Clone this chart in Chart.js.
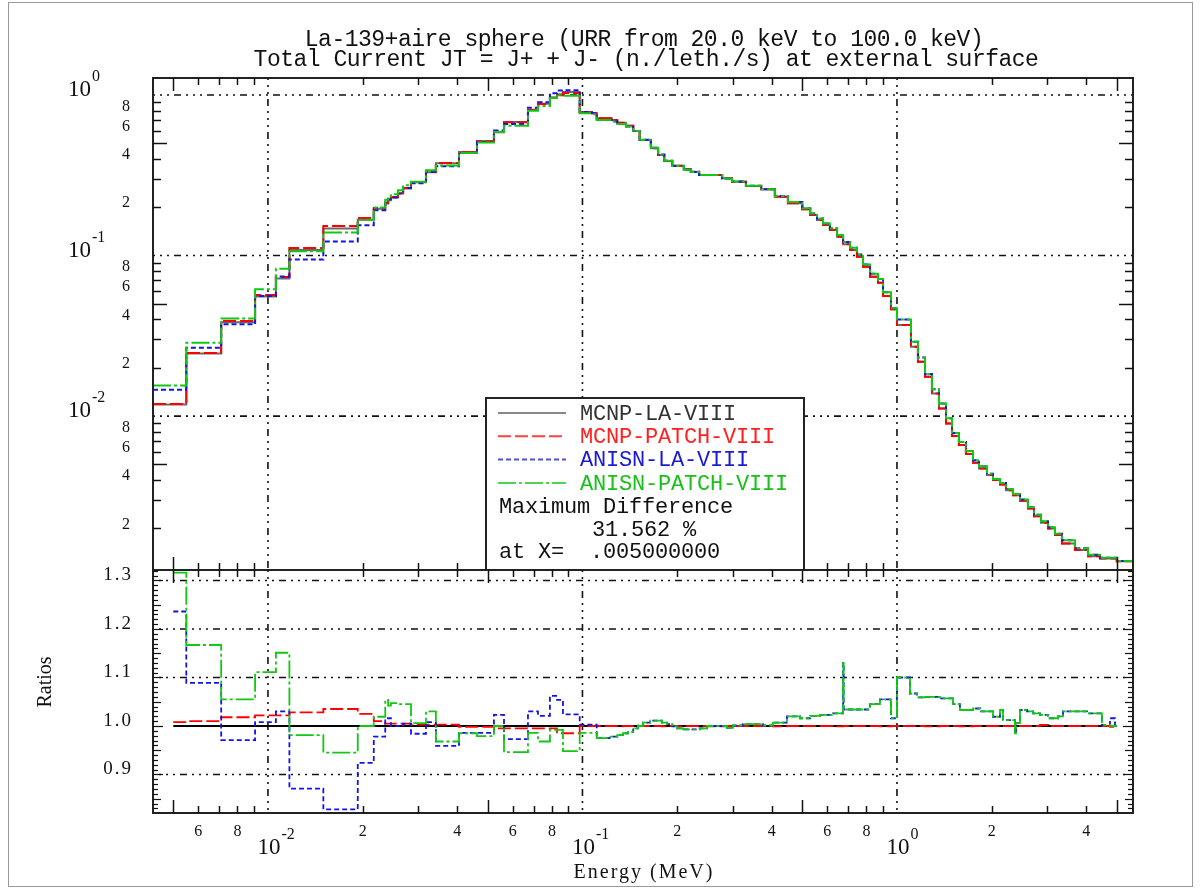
<!DOCTYPE html>
<html>
<head>
<meta charset="utf-8">
<title>La-139+aire sphere - Total Current</title>
<script src="https://cdn.jsdelivr.net/npm/chart.js@4/dist/chart.umd.min.js"></script>
<style>
  html, body { margin: 0; padding: 0; background: #fff; }
  #wrap { position: relative; width: 1200px; height: 888px; }
  #wrap canvas { position: absolute; left: 0; top: 0; }
</style>
</head>
<body>
<div id="wrap">
  <canvas id="fluxChart" width="1200" height="888"></canvas>
  <canvas id="ratioChart" width="1200" height="888"></canvas>
</div>
<script>
// axis ranges
const E_MIN = 0.00431, E_MAX = 5.63;
const FLUX_MIN = 0.0011, FLUX_MAX = 1.276;
const RATIO_MIN = 0.8206, RATIO_MAX = 1.3216;

const titleLines = ['La-139+aire sphere (URR from 20.0 keV to 100.0 keV)',
  'Total Current JT = J+ + J- (n./leth./s) at external surface'];
const seriesNames = ['MCNP-LA-VIII', 'MCNP-PATCH-VIII', 'ANISN-LA-VIII', 'ANISN-PATCH-VIII'];
const maxDiffLines = ['Maximum Difference', '31.562 %', 'at X=  .005000000'];

// top panel: bin edges (MeV) and values per bin
const fluxEdges = [0.00431, 0.0055, 0.0071, 0.0091, 0.0106, 0.0117, 0.015, 0.0193, 0.0217, 0.0236,
  0.0241, 0.0246, 0.0259, 0.0269, 0.0285, 0.0318, 0.0342, 0.0405, 0.0462, 0.0523,
  0.0563, 0.0671, 0.0722, 0.0788, 0.083, 0.0867, 0.098, 0.107, 0.111, 0.124,
  0.129, 0.1375, 0.145, 0.152, 0.165, 0.174, 0.182, 0.193, 0.21, 0.221,
  0.235, 0.278, 0.299, 0.331, 0.37, 0.409, 0.45, 0.5, 0.53, 0.557,
  0.582, 0.612, 0.645, 0.674, 0.709, 0.746, 0.78, 0.821, 0.87, 0.903,
  0.957, 1.0, 1.108, 1.166, 1.228, 1.292, 1.36, 1.432, 1.496, 1.574,
  1.657, 1.745, 1.823, 1.933, 2.02, 2.126, 2.221, 2.338, 2.461, 2.609,
  2.727, 2.87, 3.021, 3.18, 3.347, 3.681, 4.049, 4.42, 5.0, 5.63];

const mcnpLa = [0.0118, 0.0245, 0.0384, 0.0555, 0.0719, 0.1083, 0.1475, 0.1671, 0.1957, 0.2113,
  0.2207, 0.2302, 0.2439, 0.262, 0.2862, 0.3303, 0.3759, 0.4414, 0.517, 0.588,
  0.679, 0.81, 0.882, 0.966, 1.01, 1.045, 0.7804, 0.769, 0.716, 0.6984,
  0.6722, 0.6438, 0.5966, 0.5244, 0.4655, 0.4228, 0.3879, 0.3627, 0.3444, 0.3328,
  0.3174, 0.3027, 0.2884, 0.271, 0.2585, 0.2325, 0.2114, 0.194, 0.1788, 0.1664,
  0.1549, 0.1441, 0.1309, 0.1174, 0.1082, 0.09829, 0.08515, 0.07378, 0.06767, 0.05593,
  0.04622, 0.0369, 0.02702, 0.0218, 0.01757, 0.01385, 0.01117, 0.009006, 0.007505, 0.006597,
  0.005797, 0.005117, 0.004721, 0.004289, 0.003993, 0.003754, 0.003458, 0.003219, 0.002967, 0.00266,
  0.002381, 0.002163, 0.001996, 0.001814, 0.00161, 0.001463, 0.001342, 0.001298, 0.001249];

const mcnpPatch = [0.0119, 0.02475, 0.0391, 0.05672, 0.07348, 0.1113, 0.1527, 0.1713, 0.1977, 0.2124,
  0.2218, 0.2314, 0.2451, 0.2633, 0.2871, 0.3313, 0.377, 0.4405, 0.516, 0.5851,
  0.6756, 0.806, 0.8776, 0.9612, 0.9949, 1.029, 0.7804, 0.769, 0.716, 0.6984,
  0.6722, 0.6438, 0.5966, 0.5244, 0.4655, 0.4228, 0.3879, 0.3627, 0.3444, 0.3328,
  0.3174, 0.3027, 0.2884, 0.271, 0.2585, 0.2325, 0.2114, 0.194, 0.1788, 0.1664,
  0.1549, 0.1441, 0.1309, 0.1174, 0.1082, 0.09829, 0.08515, 0.07378, 0.06767, 0.05593,
  0.04622, 0.0369, 0.02702, 0.0218, 0.01757, 0.01385, 0.01117, 0.009006, 0.007505, 0.006597,
  0.005797, 0.005117, 0.004721, 0.004289, 0.003993, 0.003754, 0.003458, 0.003219, 0.002967, 0.00266,
  0.002381, 0.002163, 0.001996, 0.001814, 0.00161, 0.001463, 0.001342, 0.001298, 0.001249];

const anisnLa = [0.01458, 0.02668, 0.03729, 0.05594, 0.07406, 0.09433, 0.1221, 0.1544, 0.1914, 0.2147,
  0.2242, 0.2302, 0.2439, 0.2633, 0.2816, 0.3329, 0.3605, 0.4352, 0.5098, 0.6015,
  0.6607, 0.8343, 0.9005, 1.026, 1.065, 1.07, 0.7827, 0.7713, 0.698, 0.683,
  0.66, 0.636, 0.596, 0.5265, 0.47, 0.426, 0.3895, 0.361, 0.342, 0.331,
  0.317, 0.302, 0.289, 0.272, 0.259, 0.2345, 0.2155, 0.197, 0.1826, 0.1702,
  0.1585, 0.1478, 0.1343, 0.1214, 0.1119, 0.1016, 0.088, 0.0771, 0.0714, 0.059,
  0.047, 0.04, 0.029, 0.0232, 0.01827, 0.01467, 0.012, 0.00968, 0.00784, 0.0069,
  0.00606, 0.0053, 0.00487, 0.00438, 0.00406, 0.00383, 0.00352, 0.00327, 0.00302, 0.00271,
  0.00243, 0.00221, 0.00203, 0.00185, 0.001688, 0.0015, 0.00137, 0.00131, 0.00125];

const anisnPatch = [0.01553, 0.02859, 0.04051, 0.06166, 0.08276, 0.1062, 0.1394, 0.1671, 0.1994, 0.2227,
  0.23, 0.241, 0.2549, 0.2738, 0.2879, 0.3402, 0.3639, 0.4348, 0.5061, 0.588,
  0.6423, 0.7987, 0.8538, 0.9583, 1.002, 0.9907, 0.7695, 0.7582, 0.698, 0.683,
  0.66, 0.636, 0.596, 0.5265, 0.47, 0.426, 0.3895, 0.361, 0.342, 0.331,
  0.317, 0.302, 0.289, 0.272, 0.259, 0.2345, 0.2155, 0.197, 0.1826, 0.1702,
  0.1585, 0.1478, 0.1343, 0.1214, 0.1119, 0.1016, 0.088, 0.0771, 0.0714, 0.059,
  0.047, 0.04, 0.029, 0.0232, 0.01827, 0.01467, 0.012, 0.00968, 0.00784, 0.0069,
  0.00606, 0.0053, 0.00487, 0.00438, 0.00406, 0.00383, 0.00352, 0.00327, 0.00302, 0.00271,
  0.00243, 0.00221, 0.00203, 0.00185, 0.001688, 0.0015, 0.00137, 0.00131, 0.00125];

// bottom panel: ratios to MCNP-LA-VIII
const ratioEdges = [0.005, 0.0055, 0.0071, 0.0091, 0.0106, 0.0117, 0.015, 0.0193, 0.0217, 0.0236,
  0.0241, 0.0246, 0.0259, 0.0269, 0.0285, 0.0318, 0.0342, 0.0405, 0.0462, 0.0523,
  0.0563, 0.0671, 0.0722, 0.0788, 0.083, 0.0867, 0.098, 0.111, 0.122, 0.129,
  0.1345, 0.1395, 0.145, 0.15, 0.1557, 0.164, 0.179, 0.1856, 0.193, 0.1998,
  0.209, 0.236, 0.249, 0.288, 0.301, 0.324, 0.375, 0.403, 0.447, 0.492,
  0.529, 0.569, 0.626, 0.674, 0.677, 0.821, 0.883, 0.957, 1.0, 1.1,
  1.158, 1.228, 1.37, 1.507, 1.586, 1.745, 1.836, 2.02, 2.126, 2.173,
  2.372, 2.39, 2.461, 2.591, 2.707, 2.849, 3.021, 3.25, 3.372, 4.019,
  4.486, 4.757, 4.935, 5.0];

const refRatio = 1.0;

const patchRatio = [1.008, 1.01, 1.018, 1.022, 1.022, 1.028, 1.035, 1.025, 1.01, 1.005,
  1.005, 1.005, 1.005, 1.005, 1.003, 1.003, 1.003, 0.998, 0.998, 0.995,
  0.995, 0.995, 0.995, 0.995, 0.985, 0.985, 1.0, 1.0, 1.0, 0.999,
  1.0, 1.0, 1.001, 1.0, 1.0, 1.0, 0.999, 1.0, 1.0, 0.999,
  1.0, 1.0, 0.999, 1.0, 1.0, 1.0, 1.0, 0.999, 1.0, 1.0,
  1.0, 1.0, 0.999, 1.0, 1.0, 1.0, 0.999, 1.0, 1.0, 1.0,
  1.0, 0.999, 1.0, 1.0, 0.999, 1.0, 1.0, 1.0, 1.0, 1.0,
  0.999, 1.0, 1.0, 1.0, 1.0, 1.002, 1.0, 1.0, 1.0, 1.0,
  1.0, 0.998, 0.995];

const anisnLaRatio = [1.236, 1.089, 0.971, 1.008, 1.03, 0.871, 0.828, 0.924, 0.978, 1.016,
  1.016, 1.0, 1.0, 1.005, 0.984, 1.008, 0.959, 0.986, 0.986, 1.023,
  0.973, 1.03, 1.021, 1.062, 1.054, 1.024, 1.003, 0.975, 0.978, 0.981,
  0.985, 0.988, 0.995, 1.0, 1.007, 1.011, 1.007, 1.004, 0.999, 0.995,
  0.993, 0.995, 1.0, 0.996, 1.001, 1.004, 1.001, 1.007, 1.02, 1.016,
  1.021, 1.023, 1.026, 1.13, 1.034, 1.045, 1.055, 1.016, 1.1, 1.067,
  1.059, 1.06, 1.057, 1.045, 1.033, 1.036, 1.03, 1.019, 1.033, 1.012,
  0.985, 1.006, 1.033, 1.03, 1.026, 1.023, 1.016, 1.02, 1.03, 1.026,
  1.002, 1.016, 1.0];

const anisnPatchRatio = [1.316, 1.167, 1.055, 1.111, 1.151, 0.981, 0.945, 1.0, 1.019, 1.054,
  1.042, 1.047, 1.045, 1.045, 1.006, 1.03, 0.968, 0.985, 0.979, 1.0,
  0.946, 0.986, 0.968, 0.992, 0.992, 0.948, 0.986, 0.975, 0.978, 0.981,
  0.985, 0.988, 0.995, 1.0, 1.007, 1.011, 1.007, 1.004, 0.999, 0.995,
  0.993, 0.995, 1.0, 0.996, 1.001, 1.004, 1.001, 1.007, 1.02, 1.016,
  1.021, 1.023, 1.026, 1.13, 1.034, 1.045, 1.055, 1.016, 1.1, 1.067,
  1.059, 1.06, 1.057, 1.045, 1.033, 1.036, 1.03, 1.019, 1.033, 1.012,
  0.985, 1.006, 1.033, 1.03, 1.026, 1.023, 1.016, 1.02, 1.03, 1.026,
  1.002, 1.0, 1.0];

const ratioGrid = [0.9, 1.1, 1.2, 1.3];
const ratioLabels = ['0.9', '1.0', '1.1', '1.2', '1.3'];

// styles
const colTop = ['#6a6a6a', '#ff0000', '#1414e6', '#12c812'];
const colText = ['#333333', '#ff2020', '#1a1ad0', '#18c018'];
const dashes = [[], [13, 4], [5, 3], [18, 3, 3, 3]];

function stepLine(label, edges, vals, color, dash, width) {
  var pts = vals.map(function (v, i) { return { x: edges[i], y: v }; });
  pts.push({ x: edges[vals.length], y: vals[vals.length - 1] });
  return {
    label: label, data: pts, borderColor: color, borderWidth: width, borderDash: dash,
    stepped: true, pointRadius: 0, fill: false, borderJoinStyle: 'miter', borderCapStyle: 'butt'
  };
}

function dotted(ctx, x1, y1, x2, y2) {
  ctx.save();
  ctx.strokeStyle = '#111';
  ctx.lineWidth = 1.6;
  ctx.setLineDash([2, 5, 2, 5, 2, 5, 7, 5]);
  ctx.beginPath(); ctx.moveTo(x1, y1); ctx.lineTo(x2, y2); ctx.stroke();
  ctx.restore();
}

function logValues(lo, hi) {
  var out = [];
  for (var d = -4; d <= 1; d++) {
    for (var m = 1; m <= 9; m++) {
      var v = m * Math.pow(10, d);
      if (v > lo * 1.0001 && v < hi * 0.9999) out.push({ v: v, m: m, d: d });
    }
  }
  return out;
}

function xTicks(ctx, sx, yEdge, dir) {
  ctx.save();
  ctx.strokeStyle = '#111'; ctx.lineWidth = 1.5;
  logValues(E_MIN, E_MAX).forEach(function (t) {
    if (t.m === 1) return;
    var px = Math.round(sx.getPixelForValue(t.v)) + 0.5;
    var len = t.m === 5 ? 13 : 7;
    ctx.beginPath(); ctx.moveTo(px, yEdge); ctx.lineTo(px, yEdge + dir * len); ctx.stroke();
  });
  ctx.restore();
}

function frame(ctx, a) {
  ctx.save();
  ctx.strokeStyle = '#222'; ctx.lineWidth = 2;
  ctx.strokeRect(a.left, a.top, a.right - a.left, a.bottom - a.top);
  ctx.restore();
}

function powLabel(ctx, text10, exp, x, y, align) {
  ctx.save();
  ctx.fillStyle = '#111';
  ctx.textBaseline = 'middle';
  ctx.font = '23px "Liberation Serif"';
  var w = ctx.measureText(text10).width;
  var x0 = align === 'right' ? x - w : x - w / 2;
  ctx.textAlign = 'left';
  ctx.fillText(text10, x0, y);
  ctx.font = '16px "Liberation Serif"';
  ctx.fillText(exp, x0 + w + 1, y - 13);
  ctx.restore();
}

const fluxDecor = {
  id: 'fluxDecor',
  beforeDatasetsDraw: function (chart) {
    var ctx = chart.ctx, a = chart.chartArea, sx = chart.scales.x, sy = chart.scales.y;
    [0.01, 0.1, 1].forEach(function (v) {
      var px = sx.getPixelForValue(v);
      dotted(ctx, px, a.top, px, a.bottom);
      var py = sy.getPixelForValue(v);
      dotted(ctx, a.left, py, a.right, py);
    });
  },
  afterDatasetsDraw: function (chart) {
    var ctx = chart.ctx, a = chart.chartArea, sx = chart.scales.x, sy = chart.scales.y;
    frame(ctx, a);
    xTicks(ctx, sx, a.top, 1);
    xTicks(ctx, sx, a.bottom, -1);
    // y ticks both sides
    ctx.save();
    ctx.strokeStyle = '#111'; ctx.lineWidth = 1.5;
    logValues(FLUX_MIN, FLUX_MAX).forEach(function (t) {
      if (t.m === 1) return;
      var py = Math.round(sy.getPixelForValue(t.v)) + 0.5;
      var len = t.m === 5 ? 14 : 8;
      ctx.beginPath(); ctx.moveTo(a.left, py); ctx.lineTo(a.left + len, py); ctx.stroke();
      ctx.beginPath(); ctx.moveTo(a.right, py); ctx.lineTo(a.right - len, py); ctx.stroke();
    });
    ctx.restore();
    // y labels
    ctx.save();
    ctx.fillStyle = '#111';
    ctx.font = '16px "Liberation Serif"';
    ctx.textAlign = 'center'; ctx.textBaseline = 'middle';
    logValues(FLUX_MIN, FLUX_MAX).forEach(function (t) {
      if (t.m % 2 !== 0) return;
      ctx.fillText(String(t.m), 126, sy.getPixelForValue(t.v) - 4);
    });
    ctx.restore();
    [-2, -1, 0].forEach(function (n) {
      powLabel(ctx, '10', n === 0 ? '0' : String(n), 91, sy.getPixelForValue(Math.pow(10, n)) - 5, 'right');
    });
    // title
    ctx.save();
    ctx.fillStyle = '#111';
    ctx.font = '23px "Liberation Mono"';
    ctx.letterSpacing = '-0.5px';
    ctx.textAlign = 'center'; ctx.textBaseline = 'middle';
    ctx.fillText(titleLines[0], 644, 40);
    ctx.fillText(titleLines[1], 646, 60);
    ctx.restore();
    // legend box
    ctx.save();
    var bx = 486, by = 398, bw = 318, bh = a.bottom - 398;
    ctx.fillStyle = '#fff';
    ctx.fillRect(bx, by, bw, bh);
    ctx.strokeStyle = '#222'; ctx.lineWidth = 2;
    ctx.strokeRect(bx, by, bw, bh);
    ctx.font = '22px "Liberation Mono"';
    ctx.letterSpacing = '-0.2px';
    ctx.textBaseline = 'middle'; ctx.textAlign = 'left';
    seriesNames.forEach(function (name, i) {
      var ly = 413 + i * 23.3;
      ctx.save();
      ctx.strokeStyle = i === 0 ? '#888' : colTop[i];
      ctx.globalAlpha = i === 0 ? 1 : 0.75;
      ctx.lineWidth = 2;
      ctx.setLineDash(dashes[i]);
      ctx.beginPath(); ctx.moveTo(498, ly); ctx.lineTo(566, ly); ctx.stroke();
      ctx.restore();
      ctx.fillStyle = colText[i];
      ctx.fillText(name, 580, ly + 1);
    });
    ctx.fillStyle = '#111';
    ctx.fillText(maxDiffLines[0], 499, 507);
    ctx.fillText(maxDiffLines[1], 592, 530);
    ctx.fillText(maxDiffLines[2], 499, 552);
    ctx.restore();
  }
};

const ratioDecor = {
  id: 'ratioDecor',
  beforeDatasetsDraw: function (chart) {
    var ctx = chart.ctx, a = chart.chartArea, sx = chart.scales.x, sy = chart.scales.y;
    [0.01, 0.1, 1].forEach(function (v) {
      var px = sx.getPixelForValue(v);
      dotted(ctx, px, a.top, px, a.bottom);
    });
    ratioGrid.forEach(function (v) {
      var py = sy.getPixelForValue(v);
      dotted(ctx, a.left + 6, py, a.right - 6, py);
    });
  },
  afterDatasetsDraw: function (chart) {
    var ctx = chart.ctx, a = chart.chartArea, sx = chart.scales.x, sy = chart.scales.y;
    frame(ctx, a);
    xTicks(ctx, sx, a.top, 1);
    xTicks(ctx, sx, a.bottom, -1);
    // dense y ticks
    ctx.save();
    ctx.strokeStyle = '#111'; ctx.lineWidth = 1.2;
    for (var k = 83; k <= 132; k++) {
      var py = Math.round(sy.getPixelForValue(k / 100)) + 0.5;
      var len = k % 10 === 0 ? 10 : (k % 5 === 0 ? 8 : 5);
      ctx.beginPath(); ctx.moveTo(a.left, py); ctx.lineTo(a.left + len, py); ctx.stroke();
      ctx.beginPath(); ctx.moveTo(a.right, py); ctx.lineTo(a.right - len, py); ctx.stroke();
    }
    ctx.restore();
    // y labels
    ctx.save();
    ctx.fillStyle = '#111';
    ctx.font = '19px "Liberation Serif"';
    ctx.letterSpacing = '2px';
    ctx.textAlign = 'right'; ctx.textBaseline = 'middle';
    ratioLabels.forEach(function (s) {
      ctx.fillText(s, 133, sy.getPixelForValue(parseFloat(s)) - 5);
    });
    ctx.restore();
    // x labels
    ctx.save();
    ctx.fillStyle = '#111';
    ctx.font = '16px "Liberation Serif"';
    ctx.textAlign = 'center'; ctx.textBaseline = 'middle';
    logValues(E_MIN, E_MAX).forEach(function (t) {
      if (t.m % 2 !== 0) return;
      ctx.fillText(String(t.m), sx.getPixelForValue(t.v), 832);
    });
    ctx.restore();
    [-2, -1, 0].forEach(function (n) {
      powLabel(ctx, '10', n === 0 ? '0' : String(n), sx.getPixelForValue(Math.pow(10, n)) + 1, 848, 'center');
    });
    // axis titles
    ctx.save();
    ctx.fillStyle = '#111';
    ctx.font = '20px "Liberation Serif"';
    ctx.textAlign = 'center'; ctx.textBaseline = 'middle';
    ctx.letterSpacing = '2px';
    ctx.fillText('Energy (MeV)', 644, 873);
    ctx.letterSpacing = '0px';
    ctx.translate(46, 682);
    ctx.rotate(-Math.PI / 2);
    ctx.fillText('Ratios', 0, 0);
    ctx.restore();
    // page border
    ctx.save();
    ctx.strokeStyle = '#9a9a9a'; ctx.lineWidth = 1;
    ctx.strokeRect(8.5, 2.5, 1184, 884);
    ctx.restore();
  }
};

function baseOptions(padding, yScale) {
  return {
    responsive: false,
    animation: false,
    devicePixelRatio: 1,
    events: [],
    layout: { padding: padding },
    plugins: { legend: { display: false }, title: { display: false }, tooltip: { enabled: false } },
    scales: {
      x: { type: 'logarithmic', min: E_MIN, max: E_MAX, display: false },
      y: yScale
    }
  };
}

new Chart(document.getElementById('fluxChart'), {
  type: 'line',
  data: {
    datasets: [
      stepLine(seriesNames[3], fluxEdges, anisnPatch, colTop[3], dashes[3], 2),
      stepLine(seriesNames[2], fluxEdges, anisnLa, colTop[2], dashes[2], 2),
      stepLine(seriesNames[1], fluxEdges, mcnpPatch, colTop[1], dashes[1], 2),
      stepLine(seriesNames[0], fluxEdges, mcnpLa, colTop[0], dashes[0], 2)
    ]
  },
  options: baseOptions({ left: 153, top: 78, right: 67, bottom: 318 },
    { type: 'logarithmic', min: FLUX_MIN, max: FLUX_MAX, display: false }),
  plugins: [fluxDecor]
});

new Chart(document.getElementById('ratioChart'), {
  type: 'line',
  data: {
    datasets: [
      stepLine(seriesNames[3], ratioEdges, anisnPatchRatio, colTop[3], dashes[3], 1.8),
      stepLine(seriesNames[2], ratioEdges, anisnLaRatio, colTop[2], dashes[2], 1.8),
      stepLine(seriesNames[1], ratioEdges, patchRatio, colTop[1], dashes[1], 1.8),
      stepLine(seriesNames[0], [ratioEdges[0], ratioEdges[ratioEdges.length - 1]], [refRatio], '#000', [], 1.8)
    ]
  },
  options: baseOptions({ left: 153, top: 570, right: 67, bottom: 75 },
    { type: 'linear', min: RATIO_MIN, max: RATIO_MAX, display: false }),
  plugins: [ratioDecor]
});
</script>
</body>
</html>
